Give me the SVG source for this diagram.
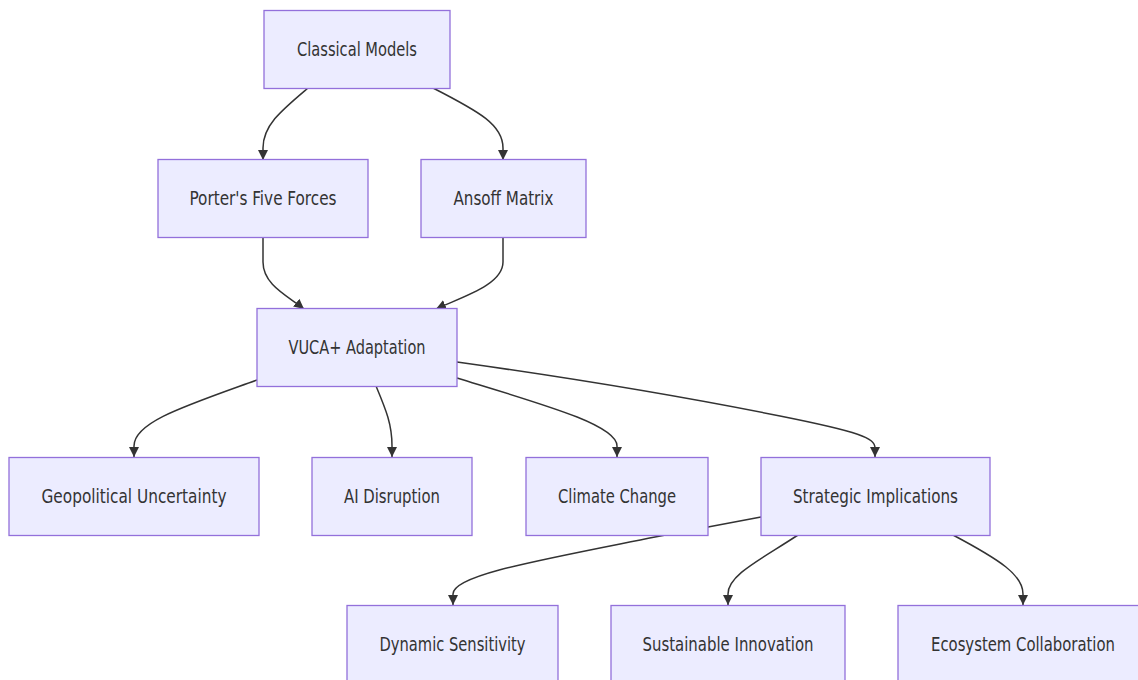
<svg xmlns="http://www.w3.org/2000/svg" width="1138" height="680" viewBox="0 0 1138 680">
<style>
.node rect{fill:#ECECFF;stroke:#9370DB;stroke-width:1.3}
.node text{font-family:"DejaVu Sans Condensed","Liberation Sans",sans-serif;font-size:19px;fill:#333;text-anchor:middle}
.edge{fill:none;stroke:#333;stroke-width:1.5}
</style>
<defs>
<marker id="arr" viewBox="0 0 10 10" refX="10" refY="5" markerUnits="userSpaceOnUse" markerWidth="10" markerHeight="11" orient="auto">
<path d="M0,0 L10,5 L0,10 z" fill="#333"/>
</marker>
</defs>
<rect width="1138" height="680" fill="#fff"/>
<g id="connectors">
<path class="edge" marker-end="url(#arr)" d="M308,88 C282,110 263,125 263,148 L263,160"/>
<path class="edge" marker-end="url(#arr)" d="M433,88 C480,112 503,125 503,148 L503,160"/>
<path class="edge" marker-end="url(#arr)" d="M263,237 L263,262 C263,285 288,296 304,309"/>
<path class="edge" marker-end="url(#arr)" d="M503,237 L503,262 C503,285 462,297 436,309"/>
<path class="edge" marker-end="url(#arr)" d="M257,380 C185,406 134,422 134,446 L134,457"/>
<path class="edge" marker-end="url(#arr)" d="M376,386 C386,410 392,424 392,446 L392,457"/>
<path class="edge" marker-end="url(#arr)" d="M457,378 C545,405 617,425 617,446 L617,457"/>
<path class="edge" marker-end="url(#arr)" d="M457,362 C600,382 700,400 780,416 C860,432 875,438 875,448 L875,457"/>
<path class="edge" marker-end="url(#arr)" d="M761,517 L655,537 C540,560 453,575 453,594 L453,605"/>
<path class="edge" marker-end="url(#arr)" d="M798,535 C760,560 728,575 728,594 L728,605"/>
<path class="edge" marker-end="url(#arr)" d="M953,535 C1000,560 1023,575 1023,594 L1023,605"/>
</g>
<g id="classical" class="node"><rect x="264" y="10.5" width="186" height="78"/><text x="357" y="56" textLength="120" lengthAdjust="spacingAndGlyphs">Classical Models</text></g>
<g id="porter" class="node"><rect x="158" y="159.5" width="210" height="78"/><text x="263" y="205" textLength="147" lengthAdjust="spacingAndGlyphs">Porter's Five Forces</text></g>
<g id="ansoff" class="node"><rect x="421" y="159.5" width="165" height="78"/><text x="503.5" y="205" textLength="100" lengthAdjust="spacingAndGlyphs">Ansoff Matrix</text></g>
<g id="vuca" class="node"><rect x="257" y="308.5" width="200" height="78"/><text x="357" y="354" textLength="137" lengthAdjust="spacingAndGlyphs">VUCA+ Adaptation</text></g>
<g id="geo" class="node"><rect x="9" y="457.5" width="250" height="78"/><text x="134" y="503" textLength="185" lengthAdjust="spacingAndGlyphs">Geopolitical Uncertainty</text></g>
<g id="ai" class="node"><rect x="312" y="457.5" width="160" height="78"/><text x="392" y="503" textLength="96" lengthAdjust="spacingAndGlyphs">AI Disruption</text></g>
<g id="climate" class="node"><rect x="526" y="457.5" width="182" height="78"/><text x="617" y="503" textLength="118" lengthAdjust="spacingAndGlyphs">Climate Change</text></g>
<g id="strategic" class="node"><rect x="761" y="457.5" width="229" height="78"/><text x="875.5" y="503" textLength="165" lengthAdjust="spacingAndGlyphs">Strategic Implications</text></g>
<g id="dynamic" class="node"><rect x="347" y="605.5" width="211" height="78"/><text x="452.5" y="651" textLength="146" lengthAdjust="spacingAndGlyphs">Dynamic Sensitivity</text></g>
<g id="sustainable" class="node"><rect x="611" y="605.5" width="234" height="78"/><text x="728" y="651" textLength="171" lengthAdjust="spacingAndGlyphs">Sustainable Innovation</text></g>
<g id="ecosystem" class="node"><rect x="898" y="605.5" width="250" height="78"/><text x="1023" y="651" textLength="184" lengthAdjust="spacingAndGlyphs">Ecosystem Collaboration</text></g>
</svg>
